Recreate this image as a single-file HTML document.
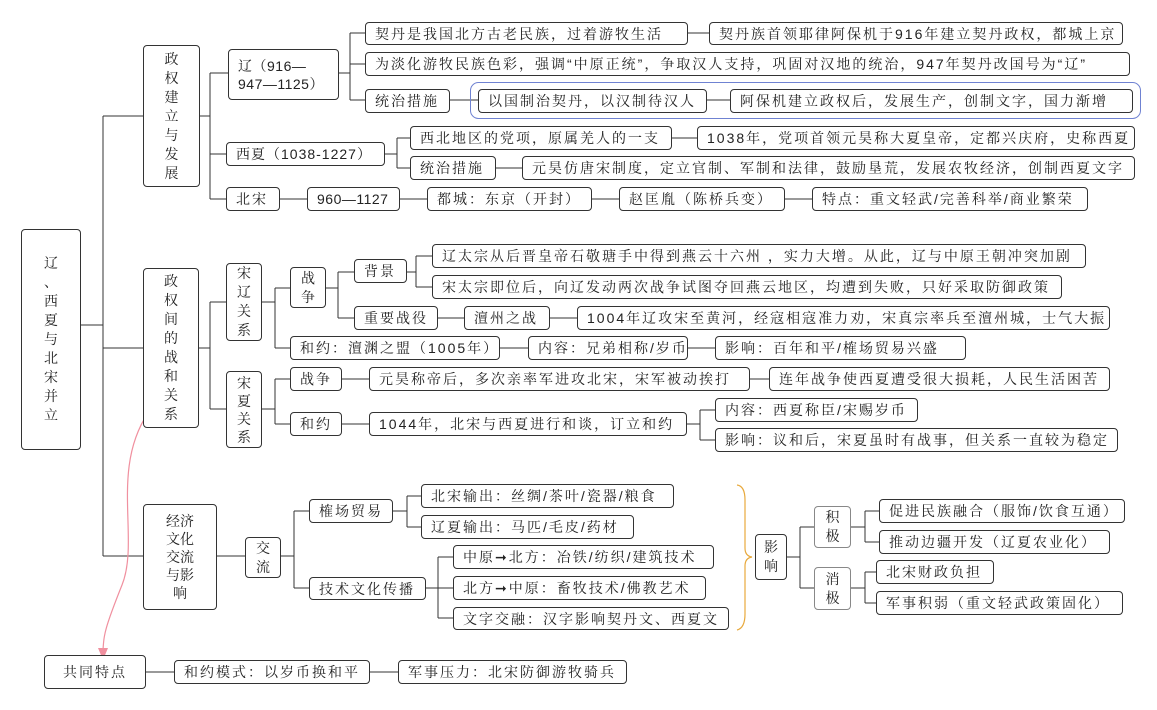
<!DOCTYPE html>
<html><head><meta charset="utf-8"><style>
body{margin:0;width:1157px;height:710px;background:#fff;position:relative;overflow:hidden;font-family:"Liberation Sans","Noto Serif CJK SC",serif;color:#222}
.b{position:absolute;box-sizing:border-box;border:1px solid #333;border-radius:4px;background:#fff;font-size:14px;display:flex;align-items:center;padding-left:9px;white-space:nowrap;letter-spacing:2px;overflow:hidden}
.v{flex-direction:column;justify-content:center;align-items:center;padding:0;white-space:normal;text-align:center;letter-spacing:0}
.g{border-color:#888}
svg{position:absolute;left:0;top:0}
</style></head><body>
<svg width="1157" height="710">
<g stroke="#333" stroke-width="1" fill="none">
<path d="M81 325H103M103 116V556M103 116H143M103 348H143M103 556H143"/>
<path d="M200 116H210M210 73V199M210 73H228M210 154H226M210 199H226"/>
<path d="M339 73H350M350 33V100M350 33H365M350 64H365M350 100H365M688 33H709M450 100H478M707 100H730"/>
<path d="M385 154H397M397 138V168M397 138H410M397 168H410M672 138H697M496 168H522"/>
<path d="M280 199H307M400 199H427M592 199H619M785 199H812"/>
<path d="M199 348H210M210 302V409M210 302H226M210 409H226"/>
<path d="M262 302H275M275 288V348M275 288H290M275 348H290M326 288H338M338 272V318M338 272H354M338 318H354M407 272H416M416 256V287M416 256H432M416 287H432M438 318H464M550 318H577M500 348H528M688 348H715"/>
<path d="M262 409H275M275 379V424M275 379H290M275 424H290M342 379H369M750 379H769M342 424H369M687 424H700M700 410V440M700 410H715M700 440H715"/>
<path d="M217 556H245M281 556H294M294 511V588M294 511H309M294 588H309M393 511H407M407 496V527M407 496H421M407 527H421M426 588H438M438 557V618M438 557H453M438 588H453M438 618H453"/>
<path d="M787 557H800M800 527V588M800 527H814M800 588H814M851 527H865M865 511V542M865 511H879M865 542H879M851 588H865M865 572V603M865 572H876M865 603H876"/>
<path d="M146 672H174M370 672H398"/>
</g>
<rect x="470.5" y="82.5" width="670" height="36" rx="8" fill="none" stroke="#6f82d2"/>
<path d="M737 485Q745 486 745 500V548Q745 556 752 557Q745 558 745 566V614Q745 628 737 630" fill="none" stroke="#e8a93c" stroke-width="1.2"/>
<path d="M148 413C110 470 140 540 122 585S104 635 103 650" fill="none" stroke="#f0909f" stroke-width="1.2"/>
<path d="M98 648L103 660L108 648Z" fill="#f0909f"/>
</svg>

<div class="b v" style="left:21px;top:229px;width:60px;height:221px;line-height:19px">辽<br>、<br>西<br>夏<br>与<br>北<br>宋<br>并<br>立</div>
<div class="b v" style="left:143px;top:45px;width:57px;height:142px;line-height:19px">政<br>权<br>建<br>立<br>与<br>发<br>展</div>
<div class="b v" style="left:143px;top:268px;width:56px;height:160px;line-height:19px">政<br>权<br>间<br>的<br>战<br>和<br>关<br>系</div>
<div class="b v" style="left:143px;top:504px;width:74px;height:106px;line-height:18px">经济<br>文化<br>交流<br>与影<br>响</div>

<div class="b" style="left:228px;top:49px;width:111px;height:51px;white-space:normal;line-height:18px;letter-spacing:0.5px">辽（916—<br>947—1125）</div>
<div class="b" style="left:365px;top:22px;width:323px;height:23px">契丹是我国北方古老民族，过着游牧生活</div>
<div class="b" style="left:709px;top:22px;width:414px;height:23px">契丹族首领耶律阿保机于916年建立契丹政权，都城上京</div>
<div class="b" style="left:365px;top:52px;width:765px;height:24px">为淡化游牧民族色彩，强调“中原正统”，争取汉人支持，巩固对汉地的统治，947年契丹改国号为“辽”</div>
<div class="b" style="left:365px;top:89px;width:85px;height:24px">统治措施</div>
<div class="b" style="left:478px;top:89px;width:229px;height:24px">以国制治契丹，以汉制待汉人</div>
<div class="b" style="left:730px;top:89px;width:403px;height:24px">阿保机建立政权后，发展生产，创制文字，国力渐增</div>

<div class="b" style="left:226px;top:142px;width:159px;height:24px;letter-spacing:1px">西夏（1038-1227）</div>
<div class="b" style="left:410px;top:126px;width:262px;height:24px">西北地区的党项，原属羌人的一支</div>
<div class="b" style="left:697px;top:126px;width:438px;height:24px">1038年，党项首领元昊称大夏皇帝，定都兴庆府，史称西夏</div>
<div class="b" style="left:410px;top:156px;width:86px;height:24px">统治措施</div>
<div class="b" style="left:522px;top:156px;width:613px;height:24px">元昊仿唐宋制度，定立官制、军制和法律，鼓励垦荒，发展农牧经济，创制西夏文字</div>

<div class="b" style="left:226px;top:187px;width:54px;height:24px">北宋</div>
<div class="b" style="left:307px;top:187px;width:93px;height:24px;letter-spacing:0.5px">960—1127</div>
<div class="b" style="left:427px;top:187px;width:165px;height:24px">都城：东京（开封）</div>
<div class="b" style="left:619px;top:187px;width:166px;height:24px">赵匡胤（陈桥兵变）</div>
<div class="b" style="left:812px;top:187px;width:276px;height:24px">特点：重文轻武/完善科举/商业繁荣</div>

<div class="b v" style="left:226px;top:263px;width:36px;height:78px;line-height:19px">宋<br>辽<br>关<br>系</div>
<div class="b v" style="left:290px;top:267px;width:36px;height:41px;line-height:19px">战<br>争</div>
<div class="b" style="left:354px;top:259px;width:53px;height:24px">背景</div>
<div class="b" style="left:432px;top:244px;width:654px;height:24px">辽太宗从后晋皇帝石敬瑭手中得到燕云十六州 ，实力大增。从此，辽与中原王朝冲突加剧</div>
<div class="b" style="left:432px;top:275px;width:630px;height:24px">宋太宗即位后，向辽发动两次战争试图夺回燕云地区，均遭到失败，只好采取防御政策</div>
<div class="b" style="left:354px;top:306px;width:84px;height:24px">重要战役</div>
<div class="b" style="left:464px;top:306px;width:86px;height:24px">澶州之战</div>
<div class="b" style="left:577px;top:306px;width:533px;height:24px">1004年辽攻宋至黄河，经寇相寇准力劝，宋真宗率兵至澶州城，士气大振</div>
<div class="b" style="left:290px;top:336px;width:210px;height:24px">和约：澶渊之盟（1005年）</div>
<div class="b" style="left:528px;top:336px;width:160px;height:24px">内容：兄弟相称/岁币</div>
<div class="b" style="left:715px;top:336px;width:251px;height:24px">影响：百年和平/榷场贸易兴盛</div>

<div class="b v" style="left:226px;top:371px;width:36px;height:77px;line-height:18px">宋<br>夏<br>关<br>系</div>
<div class="b" style="left:290px;top:367px;width:52px;height:24px">战争</div>
<div class="b" style="left:369px;top:367px;width:381px;height:24px">元昊称帝后，多次亲率军进攻北宋，宋军被动挨打</div>
<div class="b" style="left:769px;top:367px;width:341px;height:24px">连年战争使西夏遭受很大损耗，人民生活困苦</div>
<div class="b" style="left:290px;top:412px;width:52px;height:24px">和约</div>
<div class="b" style="left:369px;top:412px;width:318px;height:24px">1044年，北宋与西夏进行和谈，订立和约</div>
<div class="b" style="left:715px;top:398px;width:203px;height:24px">内容：西夏称臣/宋赐岁币</div>
<div class="b" style="left:715px;top:428px;width:403px;height:24px">影响：议和后，宋夏虽时有战事，但关系一直较为稳定</div>

<div class="b v" style="left:245px;top:537px;width:36px;height:41px;line-height:19px">交<br>流</div>
<div class="b" style="left:309px;top:499px;width:84px;height:24px">榷场贸易</div>
<div class="b" style="left:309px;top:577px;width:117px;height:23px">技术文化传播</div>
<div class="b" style="left:421px;top:484px;width:253px;height:24px">北宋输出：丝绸/茶叶/瓷器/粮食</div>
<div class="b" style="left:421px;top:515px;width:213px;height:24px">辽夏输出：马匹/毛皮/药材</div>
<div class="b" style="left:453px;top:545px;width:261px;height:24px">中原➞北方：冶铁/纺织/建筑技术</div>
<div class="b" style="left:453px;top:576px;width:253px;height:24px">北方➞中原：畜牧技术/佛教艺术</div>
<div class="b" style="left:453px;top:607px;width:276px;height:23px">文字交融：汉字影响契丹文、西夏文</div>

<div class="b v" style="left:755px;top:534px;width:32px;height:46px;line-height:19px">影<br>响</div>
<div class="b v g" style="left:814px;top:506px;width:37px;height:42px;line-height:19px">积<br>极</div>
<div class="b v g" style="left:814px;top:567px;width:37px;height:43px;line-height:19px">消<br>极</div>
<div class="b" style="left:879px;top:499px;width:246px;height:24px">促进民族融合（服饰/饮食互通）</div>
<div class="b" style="left:879px;top:530px;width:231px;height:24px">推动边疆开发（辽夏农业化）</div>
<div class="b" style="left:876px;top:560px;width:118px;height:24px">北宋财政负担</div>
<div class="b" style="left:876px;top:591px;width:247px;height:24px">军事积弱（重文轻武政策固化）</div>

<div class="b" style="left:44px;top:655px;width:102px;height:34px;padding-left:18px">共同特点</div>
<div class="b" style="left:174px;top:660px;width:196px;height:24px">和约模式：以岁币换和平</div>
<div class="b" style="left:398px;top:660px;width:229px;height:24px">军事压力：北宋防御游牧骑兵</div>
</body></html>
